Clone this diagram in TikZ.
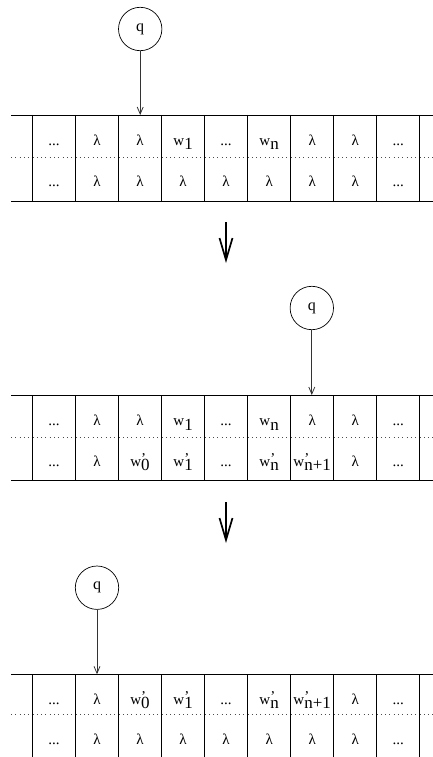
\documentclass[tikz,border=0pt]{standalone}
\usepackage{fontspec}
\setmainfont{Liberation Serif}
\usetikzlibrary{arrows.meta}
\newcommand{\wsub}[1]{w\raisebox{-0.3em}{\fontsize{17}{19}\selectfont #1}}
\newcommand{\wpsub}[1]{w\rlap{\raisebox{0.2em}{'}}\raisebox{-0.3em}{\fontsize{17}{19}\selectfont #1}}
\newcommand{\tdots}{...}
\tikzset{
  cell/.style={anchor=base, inner sep=0pt, font=\fontsize{15}{17}\selectfont},
  head/.style={draw, circle, minimum size=43.4pt, inner sep=0pt, font=\fontsize{16}{18}\selectfont, line width=0.7pt},
  tapeline/.style={line width=0.8pt},
  sepline/.style={line width=0.7pt, black!70, dash pattern=on 1pt off 3.3pt},
  headarrow/.style={line width=0.8pt, black!80, -{Straight Barb[length=7pt,width=6pt]}},
  bigarrow/.style={line width=1.7pt, -{Straight Barb[length=22pt,width=13pt]}}
}
\begin{document}
\begin{tikzpicture}[x=1pt,y=-1pt]
\useasboundingbox (0,0) rectangle (433,757);
% ---------- tape 1 ----------
\def\T{115}
\draw[tapeline] (11,\T) -- (433,\T);
\draw[sepline] (11,\T+42.7) -- (433,\T+42.7);
\draw[tapeline] (11,\T+86) -- (433,\T+86);
\foreach \i in {0,1,2,3,4,5,6,7,8,9} \draw[tapeline] ({32.5+43.03*\i},\T) -- ({32.5+43.03*\i},\T+86);
\foreach \lab [count=\i from 0] in {\tdots,λ,λ,{\wsub{1}},\tdots,{\wsub{n}},λ,λ,\tdots}
  \node[cell] (a\i) at ({54+43.03*\i},\T+30.5) {\lab};
\foreach \lab [count=\i from 0] in {\tdots,λ,λ,λ,λ,λ,λ,λ,\tdots}
  \node[cell] (b\i) at ({54+43.03*\i},\T+71) {\lab};
\node[head] (q1) at (140.2,29) {q};
\coordinate (h1) at (140.2,\T);
\draw[headarrow] (q1) -- (h1);
% big arrow 1
\coordinate (s1) at (226,222);
\coordinate (e1) at (226,263);
\draw[bigarrow] (s1) -- (e1);
% ---------- tape 2 ----------
\def\T{395}
\draw[tapeline] (11,\T) -- (433,\T);
\draw[sepline] (11,\T+42.3) -- (433,\T+42.3);
\draw[tapeline] (11,\T+85) -- (433,\T+85);
\foreach \i in {0,1,2,3,4,5,6,7,8,9} \draw[tapeline] ({32.5+43.03*\i},\T) -- ({32.5+43.03*\i},\T+85);
\foreach \lab [count=\i from 0] in {\tdots,λ,λ,{\wsub{1}},\tdots,{\wsub{n}},λ,λ,\tdots}
  \node[cell] (c\i) at ({54+43.03*\i},\T+30.5) {\lab};
\foreach \lab [count=\i from 0] in {\tdots,λ,{\wpsub{0}},{\wpsub{1}},\tdots,{\wpsub{n}},{\wpsub{n+1}},λ,\tdots}
  \node[cell] (d\i) at ({54+43.03*\i},\T+71) {\lab};
\node[head] (q2) at (311.8,308) {q};
\coordinate (h2) at (311.8,\T);
\draw[headarrow] (q2) -- (h2);
% big arrow 2
\coordinate (s2) at (226,502);
\coordinate (e2) at (226,543);
\draw[bigarrow] (s2) -- (e2);
% ---------- tape 3 ----------
\def\T{674.3}
\draw[tapeline] (11,\T) -- (433,\T);
\draw[sepline] (11,\T+40) -- (433,\T+40);
\foreach \i in {0,1,2,3,4,5,6,7,8,9} \draw[tapeline] ({32.5+43.03*\i},\T) -- ({32.5+43.03*\i},757);
\foreach \lab [count=\i from 0] in {\tdots,λ,{\wpsub{0}},{\wpsub{1}},\tdots,{\wpsub{n}},{\wpsub{n+1}},λ,\tdots}
  \node[cell] (e\i) at ({54+43.03*\i},\T+30) {\lab};
\foreach \lab [count=\i from 0] in {\tdots,λ,λ,λ,λ,λ,λ,λ,\tdots}
  \node[cell] (f\i) at ({54+43.03*\i},\T+70.5) {\lab};
\node[head] (q3) at (97,587.7) {q};
\coordinate (h3) at (97,\T);
\draw[headarrow] (q3) -- (h3);
\end{tikzpicture}
\end{document}
